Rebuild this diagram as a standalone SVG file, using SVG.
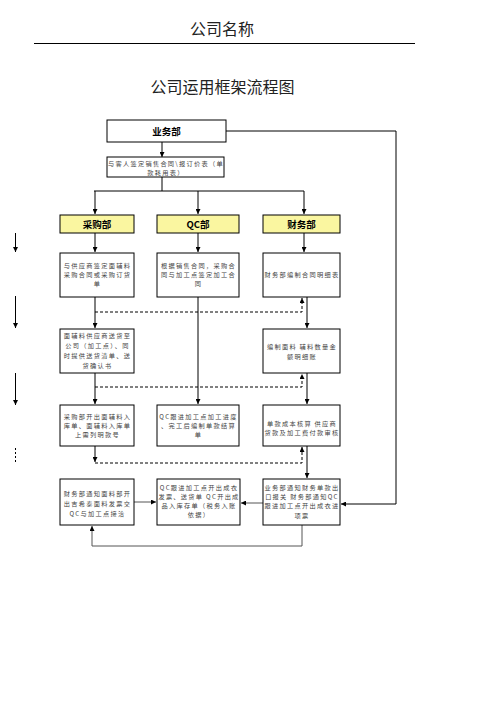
<svg xmlns="http://www.w3.org/2000/svg" width="496" height="702" viewBox="0 0 496 702">
<style>
.box{fill:#fff;stroke:#000;stroke-width:1}
.dept{fill:#FAF6A0;stroke:#000;stroke-width:1}
.t{font-family:"Noto Sans CJK SC","Liberation Serif",serif;font-size:6.2px;letter-spacing:1.3px;fill:#444;text-anchor:middle}
.b{font-family:"Noto Sans CJK SC","Liberation Sans",sans-serif;font-size:9.5px;font-weight:bold;fill:#000;text-anchor:middle}
.h{font-family:"Noto Sans CJK SC","Liberation Serif",serif;fill:#222;text-anchor:middle}
.ln{fill:none;stroke:#000;stroke-width:1}
.ds{fill:none;stroke:#000;stroke-width:1;stroke-dasharray:3,2}
.gl{fill:none;stroke:#555;stroke-width:1}
</style>
<defs>
<marker id="a" viewBox="0 0 8 8" refX="8" refY="4" markerWidth="5" markerHeight="5" orient="auto" markerUnits="userSpaceOnUse"><path d="M0,0 L8,4 L0,8 z" fill="#000"/></marker>
</defs>
<rect width="496" height="702" fill="#fff"/>
<g id="header">
<text class="h" x="222" y="35" font-size="16">公司名称</text>
<line x1="34" y1="43.5" x2="415" y2="43.5" stroke="#000" stroke-width="1"/>
<text class="h" x="222.5" y="93" font-size="16">公司运用框架流程图</text>
</g>
<g id="connectors">
<path class="ln" d="M162,142 V157" marker-end="url(#a)"/>
<path class="ln" d="M162,177 V191"/>
<path class="ln" d="M94,191 H304"/>
<path class="ln" d="M95,191 V214" marker-end="url(#a)"/>
<path class="ln" d="M198,191 V214" marker-end="url(#a)"/>
<path class="ln" d="M304,191 V214" marker-end="url(#a)"/>
<path class="ln" d="M226,131 H396 V504 H341" marker-end="url(#a)"/>
<path class="ln" d="M95,233 V252" marker-end="url(#a)"/>
<path class="ln" d="M198,233 V252" marker-end="url(#a)"/>
<path class="ln" d="M304,233 V252" marker-end="url(#a)"/>
<path class="ln" d="M95,297 V328" marker-end="url(#a)"/>
<path class="ds" d="M95,312 H302 V298" marker-end="url(#a)"/>
<path class="ln" d="M307,297 V328" marker-end="url(#a)"/>
<path class="ln" d="M198,297 V404" marker-end="url(#a)"/>
<path class="ln" d="M95,373 V404" marker-end="url(#a)"/>
<path class="ds" d="M95,387 H302 V374" marker-end="url(#a)"/>
<path class="ln" d="M307,373 V404" marker-end="url(#a)"/>
<path class="ln" d="M95,446 V462" marker-end="url(#a)"/>
<path class="ds" d="M95,463 H302 V447" marker-end="url(#a)"/>
<path class="ln" d="M307,446 V478" marker-end="url(#a)"/>
<path class="gl" d="M134,502 H156" marker-end="url(#a)"/>
<path class="gl" d="M263,503 H241" marker-end="url(#a)"/>
<path class="gl" d="M302,525 V546 H92 V526" marker-end="url(#a)"/>
<path class="ln" d="M15.5,233 V252" marker-end="url(#a)"/>
<path class="ln" d="M15.5,296 V328" marker-end="url(#a)"/>
<path class="ln" d="M15.5,373 V405" marker-end="url(#a)"/>
<path class="ln" d="M15.5,448 V463" stroke-dasharray="2,2"/>
</g>
<g id="n_yewu">
<rect class="box" x="107" y="120" width="119" height="22"/>
<text class="b" x="166.5" y="134.5">业务部</text>
</g>
<g id="n_kehu">
<rect class="box" x="107" y="157" width="117" height="20"/>
<text class="t" x="166" y="166">与客人签定销售合同\报订价表（单</text>
<text class="t" x="166" y="175">款耗用表）</text>
</g>
<g id="n_caigou">
<rect class="dept" x="60" y="215" width="74" height="18"/>
<text class="b" x="97" y="227.5">采购部</text>
</g>
<g id="n_qc">
<rect class="dept" x="157" y="215" width="82" height="18"/>
<text class="b" x="198" y="227.5">QC部</text>
</g>
<g id="n_caiwu">
<rect class="dept" x="263" y="215" width="77" height="18"/>
<text class="b" x="301.5" y="227.5">财务部</text>
</g>
<g id="n_c2">
<rect class="box" x="60" y="253" width="74" height="44"/>
<text class="t" x="97.5" y="268">与供应商签定面辅料</text>
<text class="t" x="97.5" y="277">采购合同或采购订货</text>
<text class="t" x="97.5" y="286">单</text>
</g>
<g id="n_q2">
<rect class="box" x="157" y="253" width="82" height="44"/>
<text class="t" x="198.5" y="268">根据销售合同，采购合</text>
<text class="t" x="198.5" y="277">同与加工点签定加工合</text>
<text class="t" x="198.5" y="286">同</text>
</g>
<g id="n_f2">
<rect class="box" x="263" y="253" width="77" height="44"/>
<text class="t" x="302" y="277">财务部编制合同明细表</text>
</g>
<g id="n_c3">
<rect class="box" x="60" y="329" width="74" height="44"/>
<text class="t" x="97.5" y="338">面辅料供应商送货至</text>
<text class="t" x="97.5" y="348">公司（加工点）、同</text>
<text class="t" x="97.5" y="358">时提供送货清单、送</text>
<text class="t" x="97.5" y="368">货确认书</text>
</g>
<g id="n_f3">
<rect class="box" x="263" y="329" width="77" height="44"/>
<text class="t" x="302" y="349">编制面料 辅料数量金</text>
<text class="t" x="302" y="359">额明细账</text>
</g>
<g id="n_c4">
<rect class="box" x="60" y="405" width="74" height="41"/>
<text class="t" x="97.5" y="419">采购部开出面辅料入</text>
<text class="t" x="97.5" y="428">库单、面辅料入库单</text>
<text class="t" x="97.5" y="437">上需列明款号</text>
</g>
<g id="n_q4">
<rect class="box" x="157" y="405" width="82" height="41"/>
<text class="t" x="198.5" y="419">QC跟进加工点加工进度</text>
<text class="t" x="198.5" y="428">、完工后编制单款结算</text>
<text class="t" x="198.5" y="437">单</text>
</g>
<g id="n_f4">
<rect class="box" x="263" y="405" width="77" height="41"/>
<text class="t" x="302" y="426">单款成本核算 供应商</text>
<text class="t" x="302" y="435">货款及加工费付款审核</text>
</g>
<g id="n_c5">
<rect class="box" x="60" y="479" width="74" height="46"/>
<text class="t" x="97.5" y="496">财务部通知面料部开</text>
<text class="t" x="97.5" y="506">出吉希泰面料发票交</text>
<text class="t" x="97.5" y="516">QC与加工点接洽</text>
</g>
<g id="n_q5">
<rect class="box" x="157" y="479" width="83" height="46"/>
<text class="t" x="199" y="490">QC跟进加工点开出成衣</text>
<text class="t" x="199" y="499">发票、送货单 QC开出成</text>
<text class="t" x="199" y="508">品入库存单（税务入账</text>
<text class="t" x="199" y="517">依据）</text>
</g>
<g id="n_f5">
<rect class="box" x="263" y="479" width="77" height="46"/>
<text class="t" x="302" y="490">业务部通知财务单款出</text>
<text class="t" x="302" y="499">口报关 财务部通知QC</text>
<text class="t" x="302" y="508">跟进加工点开出成衣进</text>
<text class="t" x="302" y="518">项票</text>
</g>
</svg>
